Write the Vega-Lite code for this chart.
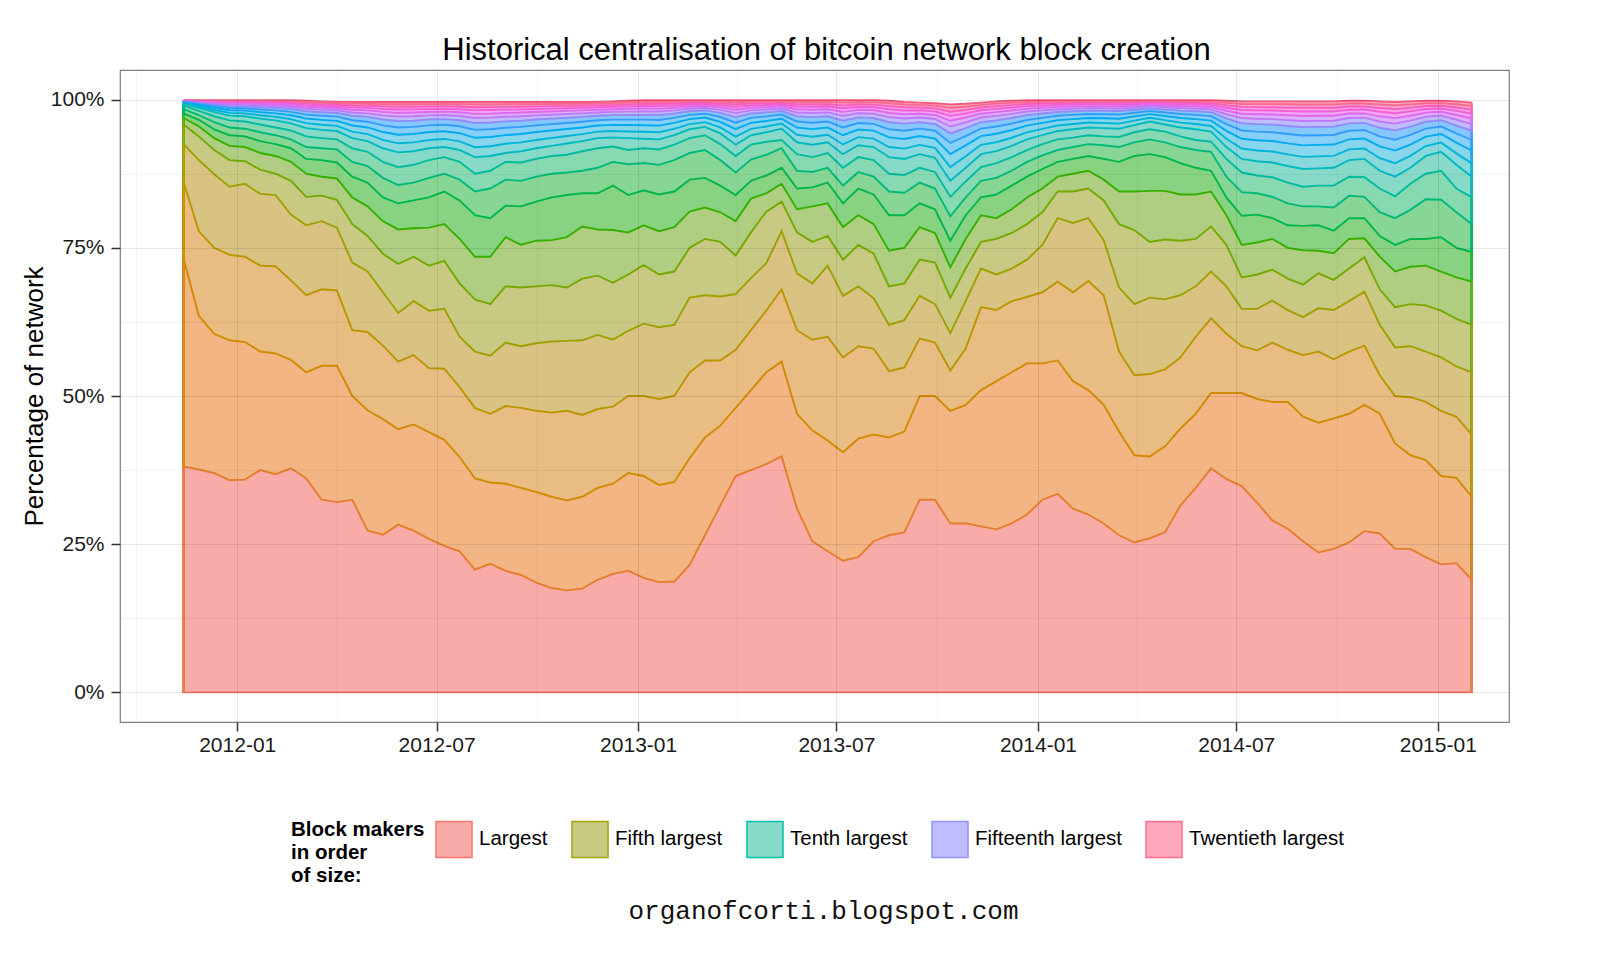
{
  "$schema": "https://vega.github.io/schema/vega-lite/v6.json",
  "width": 1389,
  "height": 652,
  "autosize": {"type": "none"},
  "padding": {"left": 120, "top": 70, "right": 91, "bottom": 238},
  "background": "white",
  "title": {
    "text": "Historical centralisation of bitcoin network block creation",
    "font": "Liberation Sans",
    "fontSize": 31,
    "fontWeight": "normal",
    "color": "black",
    "anchor": "middle",
    "offset": 3,
    "dx": 12
  },
  "config": {
    "font": "Liberation Sans",
    "view": {"stroke": "#7F7F7F", "strokeWidth": 1.2},
    "axis": {
      "domain": false,
      "labelFont": "Liberation Sans",
      "labelFontSize": 21,
      "labelColor": "#1A1A1A",
      "tickColor": "#333333",
      "tickSize": 9,
      "tickWidth": 1.5,
      "gridColor": "#000000",
      "titleFont": "Liberation Sans",
      "titleFontWeight": "normal",
      "titleColor": "black"
    }
  },
  "data": {
    "values": [
      {"d":"2011-11-13","r1":38.1,"r2":73.2,"r3":86.1,"r4":92.5,"r5":95.8,"r6":96.9,"r7":97.7,"r8":98.4,"r9":99.0,"r10":99.3,"r11":99.41,"r12":99.51,"r13":99.6,"r14":99.67,"r15":99.73,"r16":99.77,"r17":99.81,"r18":99.84,"r19":99.87,"r20":99.9},
      {"d":"2011-11-27","r1":37.6,"r2":63.5,"r3":77.8,"r4":89.8,"r5":93.8,"r6":95.5,"r7":96.6,"r8":97.4,"r9":98.1,"r10":98.6,"r11":98.83,"r12":99.06,"r13":99.24,"r14":99.41,"r15":99.52,"r16":99.62,"r17":99.71,"r18":99.78,"r19":99.84,"r20":99.9},
      {"d":"2011-12-11","r1":37.0,"r2":60.5,"r3":75.0,"r4":87.4,"r5":91.5,"r6":93.5,"r7":95.0,"r8":96.2,"r9":97.2,"r10":97.9,"r11":98.26,"r12":98.6,"r13":98.89,"r14":99.14,"r15":99.32,"r16":99.47,"r17":99.6,"r18":99.71,"r19":99.81,"r20":99.9},
      {"d":"2011-12-25","r1":35.8,"r2":59.4,"r3":73.8,"r4":85.3,"r5":89.8,"r6":92.2,"r7":94.0,"r8":95.3,"r9":96.5,"r10":97.3,"r11":97.77,"r12":98.21,"r13":98.59,"r14":98.91,"r15":99.15,"r16":99.34,"r17":99.51,"r18":99.65,"r19":99.78,"r20":99.9},
      {"d":"2012-01-08","r1":35.9,"r2":59.1,"r3":73.5,"r4":85.8,"r5":89.6,"r6":92.0,"r7":93.8,"r8":95.1,"r9":96.3,"r10":97.2,"r11":97.69,"r12":98.15,"r13":98.54,"r14":98.87,"r15":99.12,"r16":99.32,"r17":99.5,"r18":99.64,"r19":99.78,"r20":99.9},
      {"d":"2012-01-22","r1":37.5,"r2":57.5,"r3":72.0,"r4":84.1,"r5":88.2,"r6":91.0,"r7":93.0,"r8":94.5,"r9":95.8,"r10":96.8,"r11":97.36,"r12":97.89,"r13":98.33,"r14":98.72,"r15":99.0,"r16":99.23,"r17":99.44,"r18":99.61,"r19":99.76,"r20":99.9},
      {"d":"2012-02-05","r1":36.8,"r2":57.2,"r3":71.9,"r4":83.9,"r5":87.5,"r6":90.5,"r7":92.5,"r8":94.0,"r9":95.3,"r10":96.5,"r11":97.11,"r12":97.69,"r13":98.18,"r14":98.61,"r15":98.91,"r16":99.17,"r17":99.39,"r18":99.58,"r19":99.75,"r20":99.9},
      {"d":"2012-02-19","r1":37.8,"r2":56.1,"r3":69.5,"r4":80.6,"r5":86.3,"r6":89.5,"r7":91.8,"r8":93.3,"r9":94.8,"r10":96.0,"r11":96.7,"r12":97.37,"r13":97.93,"r14":98.42,"r15":98.77,"r16":99.06,"r17":99.32,"r18":99.53,"r19":99.72,"r20":99.9},
      {"d":"2012-03-04","r1":36.1,"r2":54.0,"r3":67.0,"r4":78.8,"r5":83.6,"r6":87.5,"r7":90.0,"r8":92.0,"r9":93.8,"r10":95.2,"r11":96.03,"r12":96.81,"r13":97.48,"r14":98.05,"r15":98.47,"r16":98.81,"r17":99.11,"r18":99.36,"r19":99.59,"r20":99.8},
      {"d":"2012-03-18","r1":32.5,"r2":55.1,"r3":68.0,"r4":79.5,"r5":83.8,"r6":87.0,"r7":89.8,"r8":91.8,"r9":93.5,"r10":94.9,"r11":95.76,"r12":96.58,"r13":97.28,"r14":97.88,"r15":98.31,"r16":98.67,"r17":98.98,"r18":99.24,"r19":99.48,"r20":99.7},
      {"d":"2012-04-01","r1":32.1,"r2":55.1,"r3":67.8,"r4":78.4,"r5":83.1,"r6":86.7,"r7":89.4,"r8":91.6,"r9":93.3,"r10":94.7,"r11":95.58,"r12":96.42,"r13":97.13,"r14":97.74,"r15":98.18,"r16":98.55,"r17":98.87,"r18":99.13,"r19":99.38,"r20":99.6},
      {"d":"2012-04-15","r1":32.5,"r2":50.0,"r3":61.1,"r4":72.5,"r5":79.0,"r6":83.5,"r7":87.0,"r8":89.5,"r9":91.8,"r10":93.5,"r11":94.6,"r12":95.64,"r13":96.52,"r14":97.28,"r15":97.83,"r16":98.29,"r17":98.69,"r18":99.02,"r19":99.33,"r20":99.6},
      {"d":"2012-04-29","r1":27.3,"r2":47.6,"r3":60.8,"r4":71.0,"r5":77.0,"r6":82.0,"r7":86.0,"r8":88.8,"r9":91.2,"r10":93.0,"r11":94.19,"r12":95.31,"r13":96.27,"r14":97.09,"r15":97.69,"r16":98.18,"r17":98.61,"r18":98.97,"r19":99.3,"r20":99.6},
      {"d":"2012-05-13","r1":26.6,"r2":46.1,"r3":58.5,"r4":67.5,"r5":74.0,"r6":79.5,"r7":83.5,"r8":86.8,"r9":89.5,"r10":91.8,"r11":93.2,"r12":94.53,"r13":95.66,"r14":96.64,"r15":97.34,"r16":97.92,"r17":98.43,"r18":98.86,"r19":99.25,"r20":99.6},
      {"d":"2012-05-27","r1":28.3,"r2":44.4,"r3":55.8,"r4":64.0,"r5":72.3,"r6":78.1,"r7":82.5,"r8":85.6,"r9":88.6,"r10":91.1,"r11":92.63,"r12":94.08,"r13":95.31,"r14":96.37,"r15":97.14,"r16":97.77,"r17":98.33,"r18":98.79,"r19":99.22,"r20":99.6},
      {"d":"2012-06-10","r1":27.3,"r2":45.2,"r3":56.9,"r4":66.0,"r5":73.5,"r6":78.3,"r7":83.0,"r8":86.0,"r9":89.0,"r10":91.3,"r11":92.79,"r12":94.21,"r13":95.41,"r14":96.45,"r15":97.19,"r16":97.82,"r17":98.36,"r18":98.81,"r19":99.23,"r20":99.6},
      {"d":"2012-06-24","r1":25.9,"r2":43.9,"r3":54.7,"r4":64.4,"r5":72.0,"r6":78.4,"r7":83.5,"r8":86.8,"r9":89.8,"r10":91.8,"r11":93.2,"r12":94.53,"r13":95.66,"r14":96.64,"r15":97.34,"r16":97.92,"r17":98.43,"r18":98.86,"r19":99.25,"r20":99.6},
      {"d":"2012-07-08","r1":24.7,"r2":42.6,"r3":54.6,"r4":64.7,"r5":72.8,"r6":79.0,"r7":84.5,"r8":87.5,"r9":90.3,"r10":92.0,"r11":93.37,"r12":94.66,"r13":95.76,"r14":96.71,"r15":97.4,"r16":97.97,"r17":98.46,"r18":98.88,"r19":99.26,"r20":99.6},
      {"d":"2012-07-22","r1":23.8,"r2":39.7,"r3":51.5,"r4":60.0,"r5":69.0,"r6":76.5,"r7":83.0,"r8":86.5,"r9":89.5,"r10":91.5,"r11":92.96,"r12":94.34,"r13":95.51,"r14":96.52,"r15":97.25,"r16":97.86,"r17":98.39,"r18":98.83,"r19":99.24,"r20":99.6},
      {"d":"2012-08-05","r1":20.7,"r2":36.1,"r3":48.0,"r4":57.5,"r5":66.3,"r6":73.5,"r7":80.5,"r8":84.5,"r9":87.5,"r10":90.3,"r11":91.97,"r12":93.56,"r13":94.9,"r14":96.07,"r15":96.9,"r16":97.6,"r17":98.21,"r18":98.72,"r19":99.18,"r20":99.6},
      {"d":"2012-08-19","r1":21.7,"r2":35.4,"r3":47.0,"r4":56.8,"r5":65.5,"r6":73.5,"r7":80.0,"r8":85.0,"r9":88.0,"r10":90.5,"r11":92.14,"r12":93.69,"r13":95.0,"r14":96.14,"r15":96.96,"r16":97.64,"r17":98.24,"r18":98.74,"r19":99.19,"r20":99.6},
      {"d":"2012-09-02","r1":20.5,"r2":35.2,"r3":48.3,"r4":59.0,"r5":68.5,"r6":76.8,"r7":82.1,"r8":86.5,"r9":89.5,"r10":91.0,"r11":92.55,"r12":94.01,"r13":95.26,"r14":96.33,"r15":97.11,"r16":97.75,"r17":98.31,"r18":98.78,"r19":99.21,"r20":99.6},
      {"d":"2012-09-16","r1":19.8,"r2":34.5,"r3":48.0,"r4":58.4,"r5":68.3,"r6":75.5,"r7":82.0,"r8":86.3,"r9":89.4,"r10":91.3,"r11":92.79,"r12":94.21,"r13":95.41,"r14":96.45,"r15":97.19,"r16":97.82,"r17":98.36,"r18":98.81,"r19":99.23,"r20":99.6},
      {"d":"2012-09-30","r1":18.5,"r2":33.8,"r3":47.5,"r4":58.9,"r5":68.5,"r6":76.2,"r7":82.8,"r8":87.0,"r9":90.0,"r10":91.8,"r11":93.2,"r12":94.53,"r13":95.66,"r14":96.64,"r15":97.34,"r16":97.92,"r17":98.43,"r18":98.86,"r19":99.25,"r20":99.6},
      {"d":"2012-10-14","r1":17.6,"r2":33.0,"r3":47.2,"r4":59.2,"r5":68.7,"r6":76.3,"r7":83.5,"r8":87.5,"r9":90.5,"r10":92.2,"r11":93.53,"r12":94.79,"r13":95.86,"r14":96.79,"r15":97.45,"r16":98.01,"r17":98.49,"r18":98.9,"r19":99.27,"r20":99.6},
      {"d":"2012-10-28","r1":17.2,"r2":32.4,"r3":47.5,"r4":59.3,"r5":68.3,"r6":76.8,"r7":83.9,"r8":87.7,"r9":90.7,"r10":92.6,"r11":93.86,"r12":95.05,"r13":96.07,"r14":96.94,"r15":97.57,"r16":98.1,"r17":98.55,"r18":98.94,"r19":99.29,"r20":99.6},
      {"d":"2012-11-11","r1":17.5,"r2":33.0,"r3":46.8,"r4":59.4,"r5":69.8,"r6":78.6,"r7":84.2,"r8":88.0,"r9":91.3,"r10":93.0,"r11":94.19,"r12":95.31,"r13":96.27,"r14":97.09,"r15":97.69,"r16":98.18,"r17":98.61,"r18":98.97,"r19":99.3,"r20":99.6},
      {"d":"2012-11-25","r1":19.0,"r2":34.5,"r3":47.8,"r4":60.3,"r5":70.3,"r6":78.1,"r7":84.2,"r8":88.5,"r9":91.8,"r10":93.5,"r11":94.6,"r12":95.64,"r13":96.52,"r14":97.28,"r15":97.83,"r16":98.29,"r17":98.69,"r18":99.02,"r19":99.33,"r20":99.6},
      {"d":"2012-12-09","r1":20.0,"r2":35.2,"r3":48.2,"r4":59.5,"r5":69.1,"r6":78.0,"r7":85.5,"r8":89.5,"r9":92.1,"r10":93.6,"r11":94.7,"r12":95.74,"r13":96.62,"r14":97.38,"r15":97.93,"r16":98.39,"r17":98.79,"r18":99.12,"r19":99.43,"r20":99.7},
      {"d":"2012-12-23","r1":20.5,"r2":37.0,"r3":50.0,"r4":61.0,"r5":70.5,"r6":77.6,"r7":83.9,"r8":89.1,"r9":91.5,"r10":93.5,"r11":94.63,"r12":95.71,"r13":96.62,"r14":97.41,"r15":97.97,"r16":98.45,"r17":98.86,"r18":99.2,"r19":99.52,"r20":99.8},
      {"d":"2013-01-06","r1":19.3,"r2":36.5,"r3":50.0,"r4":62.2,"r5":72.1,"r6":78.8,"r7":84.7,"r8":89.3,"r9":91.8,"r10":93.4,"r11":94.57,"r12":95.68,"r13":96.62,"r14":97.43,"r15":98.02,"r16":98.5,"r17":98.93,"r18":99.28,"r19":99.61,"r20":99.9},
      {"d":"2013-01-20","r1":18.6,"r2":35.0,"r3":49.5,"r4":61.6,"r5":70.5,"r6":77.8,"r7":84.0,"r8":89.0,"r9":91.6,"r10":93.3,"r11":94.49,"r12":95.61,"r13":96.57,"r14":97.39,"r15":97.99,"r16":98.48,"r17":98.91,"r18":99.27,"r19":99.6,"r20":99.9},
      {"d":"2013-02-03","r1":18.7,"r2":35.5,"r3":50.0,"r4":62.0,"r5":71.0,"r6":78.5,"r7":84.5,"r8":89.8,"r9":92.4,"r10":94.0,"r11":95.06,"r12":96.07,"r13":96.92,"r14":97.66,"r15":98.19,"r16":98.63,"r17":99.02,"r18":99.34,"r19":99.63,"r20":99.9},
      {"d":"2013-02-17","r1":21.5,"r2":39.5,"r3":54.0,"r4":66.6,"r5":75.0,"r6":81.1,"r7":86.5,"r8":91.0,"r9":93.5,"r10":95.0,"r11":95.88,"r12":96.72,"r13":97.43,"r14":98.04,"r15":98.48,"r16":98.85,"r17":99.17,"r18":99.43,"r19":99.68,"r20":99.9},
      {"d":"2013-03-03","r1":26.5,"r2":43.0,"r3":56.0,"r4":67.0,"r5":76.5,"r6":81.8,"r7":86.8,"r8":91.5,"r9":94.0,"r10":95.4,"r11":96.21,"r12":96.98,"r13":97.63,"r14":98.19,"r15":98.6,"r16":98.93,"r17":99.23,"r18":99.47,"r19":99.7,"r20":99.9},
      {"d":"2013-03-17","r1":31.5,"r2":45.0,"r3":56.0,"r4":66.8,"r5":76.0,"r6":81.0,"r7":85.5,"r8":89.8,"r9":92.5,"r10":94.3,"r11":95.31,"r12":96.26,"r13":97.07,"r14":97.77,"r15":98.28,"r16":98.7,"r17":99.06,"r18":99.37,"r19":99.65,"r20":99.9},
      {"d":"2013-03-31","r1":36.5,"r2":48.0,"r3":57.8,"r4":67.2,"r5":73.7,"r6":79.5,"r7":83.9,"r8":87.7,"r9":90.5,"r10":92.4,"r11":93.75,"r12":95.03,"r13":96.11,"r14":97.05,"r15":97.73,"r16":98.29,"r17":98.78,"r18":99.19,"r19":99.56,"r20":99.9},
      {"d":"2013-04-14","r1":37.5,"r2":51.0,"r3":61.1,"r4":69.9,"r5":77.6,"r6":83.3,"r7":86.3,"r8":89.9,"r9":92.4,"r10":94.0,"r11":95.06,"r12":96.07,"r13":96.92,"r14":97.66,"r15":98.19,"r16":98.63,"r17":99.02,"r18":99.34,"r19":99.63,"r20":99.9},
      {"d":"2013-04-28","r1":38.5,"r2":54.0,"r3":64.4,"r4":72.4,"r5":81.1,"r6":84.2,"r7":87.2,"r8":90.7,"r9":92.9,"r10":94.5,"r11":95.47,"r12":96.39,"r13":97.17,"r14":97.85,"r15":98.33,"r16":98.74,"r17":99.09,"r18":99.39,"r19":99.66,"r20":99.9},
      {"d":"2013-05-12","r1":39.8,"r2":55.8,"r3":68.0,"r4":77.8,"r5":82.8,"r6":85.8,"r7":88.5,"r8":91.8,"r9":93.2,"r10":95.1,"r11":95.96,"r12":96.78,"r13":97.48,"r14":98.08,"r15":98.51,"r16":98.87,"r17":99.18,"r18":99.44,"r19":99.68,"r20":99.9},
      {"d":"2013-05-26","r1":31.0,"r2":47.0,"r3":61.1,"r4":70.7,"r5":77.6,"r6":81.5,"r7":85.0,"r8":88.0,"r9":90.8,"r10":92.8,"r11":94.08,"r12":95.29,"r13":96.31,"r14":97.2,"r15":97.84,"r16":98.37,"r17":98.84,"r18":99.23,"r19":99.58,"r20":99.9},
      {"d":"2013-06-09","r1":25.5,"r2":44.2,"r3":59.5,"r4":69.0,"r5":76.0,"r6":82.0,"r7":85.2,"r8":87.8,"r9":90.3,"r10":92.4,"r11":93.75,"r12":95.03,"r13":96.11,"r14":97.05,"r15":97.73,"r16":98.29,"r17":98.78,"r18":99.19,"r19":99.56,"r20":99.9},
      {"d":"2013-06-23","r1":23.8,"r2":42.5,"r3":60.0,"r4":72.0,"r5":77.0,"r6":82.5,"r7":86.0,"r8":88.5,"r9":91.0,"r10":92.8,"r11":94.08,"r12":95.29,"r13":96.31,"r14":97.2,"r15":97.84,"r16":98.37,"r17":98.84,"r18":99.23,"r19":99.58,"r20":99.9},
      {"d":"2013-07-07","r1":22.2,"r2":40.5,"r3":56.5,"r4":66.9,"r5":73.0,"r6":78.5,"r7":82.5,"r8":85.5,"r9":88.5,"r10":90.8,"r11":92.44,"r12":93.99,"r13":95.3,"r14":96.44,"r15":97.26,"r16":97.94,"r17":98.54,"r18":99.04,"r19":99.49,"r20":99.9},
      {"d":"2013-07-21","r1":22.8,"r2":42.8,"r3":58.4,"r4":68.5,"r5":75.5,"r6":80.5,"r7":85.0,"r8":87.8,"r9":90.3,"r10":92.3,"r11":93.67,"r12":94.96,"r13":96.06,"r14":97.01,"r15":97.7,"r16":98.27,"r17":98.76,"r18":99.18,"r19":99.56,"r20":99.9},
      {"d":"2013-08-04","r1":25.5,"r2":43.5,"r3":58.0,"r4":66.5,"r5":74.0,"r6":79.0,"r7":84.0,"r8":87.0,"r9":89.8,"r10":92.0,"r11":93.42,"r12":94.77,"r13":95.91,"r14":96.9,"r15":97.61,"r16":98.2,"r17":98.72,"r18":99.15,"r19":99.54,"r20":99.9},
      {"d":"2013-08-18","r1":26.5,"r2":43.0,"r3":54.2,"r4":62.0,"r5":68.5,"r6":74.5,"r7":80.5,"r8":84.5,"r9":87.5,"r10":90.3,"r11":92.01,"r12":93.63,"r13":95.0,"r14":96.19,"r15":97.05,"r16":97.76,"r17":98.38,"r18":98.9,"r19":99.37,"r20":99.8},
      {"d":"2013-09-01","r1":27.0,"r2":44.0,"r3":54.8,"r4":62.8,"r5":69.0,"r6":75.0,"r7":80.5,"r8":84.3,"r9":87.3,"r10":90.0,"r11":91.73,"r12":93.36,"r13":94.75,"r14":95.95,"r15":96.82,"r16":97.54,"r17":98.16,"r18":98.69,"r19":99.17,"r20":99.6},
      {"d":"2013-09-15","r1":32.5,"r2":50.0,"r3":59.7,"r4":66.9,"r5":73.0,"r6":78.5,"r7":82.5,"r8":86.0,"r9":88.5,"r10":90.8,"r11":92.37,"r12":93.85,"r13":95.11,"r14":96.19,"r15":96.98,"r16":97.63,"r17":98.2,"r18":98.67,"r19":99.11,"r20":99.5},
      {"d":"2013-09-29","r1":32.5,"r2":50.0,"r3":59.0,"r4":65.5,"r5":72.5,"r6":77.5,"r7":81.5,"r8":85.0,"r9":87.8,"r10":90.2,"r11":91.86,"r12":93.42,"r13":94.75,"r14":95.9,"r15":96.73,"r16":97.42,"r17":98.02,"r18":98.53,"r19":98.99,"r20":99.4},
      {"d":"2013-10-13","r1":28.5,"r2":47.5,"r3":54.3,"r4":60.6,"r5":66.6,"r6":71.7,"r7":76.2,"r8":80.3,"r9":83.6,"r10":86.3,"r11":88.62,"r12":90.82,"r13":92.69,"r14":94.3,"r15":95.46,"r16":96.43,"r17":97.27,"r18":97.97,"r19":98.62,"r20":99.2},
      {"d":"2013-10-27","r1":28.5,"r2":48.5,"r3":58.0,"r4":66.0,"r5":71.5,"r6":76.5,"r7":80.5,"r8":83.5,"r9":86.2,"r10":88.5,"r11":90.44,"r12":92.28,"r13":93.85,"r14":95.2,"r15":96.17,"r16":96.98,"r17":97.68,"r18":98.27,"r19":98.81,"r20":99.3},
      {"d":"2013-11-10","r1":28.0,"r2":51.0,"r3":65.0,"r4":71.5,"r5":76.0,"r6":80.5,"r7":83.5,"r8":86.3,"r9":88.6,"r10":90.8,"r11":92.37,"r12":93.85,"r13":95.11,"r14":96.19,"r15":96.98,"r16":97.63,"r17":98.2,"r18":98.67,"r19":99.11,"r20":99.5},
      {"d":"2013-11-24","r1":27.5,"r2":52.5,"r3":64.5,"r4":70.5,"r5":76.5,"r6":80.0,"r7":84.0,"r8":86.8,"r9":89.3,"r10":91.3,"r11":92.81,"r12":94.24,"r13":95.46,"r14":96.51,"r15":97.26,"r16":97.89,"r17":98.44,"r18":98.9,"r19":99.32,"r20":99.7},
      {"d":"2013-12-08","r1":28.5,"r2":54.0,"r3":66.0,"r4":71.5,"r5":77.5,"r6":81.5,"r7":85.5,"r8":88.0,"r9":90.3,"r10":92.2,"r11":93.57,"r12":94.86,"r13":95.96,"r14":96.91,"r15":97.6,"r16":98.17,"r17":98.66,"r18":99.08,"r19":99.46,"r20":99.8},
      {"d":"2013-12-22","r1":30.0,"r2":55.5,"r3":66.7,"r4":73.0,"r5":79.0,"r6":83.5,"r7":87.0,"r8":89.5,"r9":91.5,"r10":93.3,"r11":94.49,"r12":95.61,"r13":96.57,"r14":97.39,"r15":97.99,"r16":98.48,"r17":98.91,"r18":99.27,"r19":99.6,"r20":99.9},
      {"d":"2014-01-05","r1":32.5,"r2":55.5,"r3":67.5,"r4":75.5,"r5":81.0,"r6":85.0,"r7":88.3,"r8":90.6,"r9":92.5,"r10":94.0,"r11":95.06,"r12":96.07,"r13":96.92,"r14":97.66,"r15":98.19,"r16":98.63,"r17":99.02,"r18":99.34,"r19":99.63,"r20":99.9},
      {"d":"2014-01-19","r1":33.5,"r2":56.0,"r3":69.3,"r4":80.0,"r5":84.5,"r6":87.0,"r7":89.5,"r8":91.5,"r9":93.3,"r10":94.7,"r11":95.64,"r12":96.52,"r13":97.27,"r14":97.92,"r15":98.39,"r16":98.78,"r17":99.12,"r18":99.41,"r19":99.67,"r20":99.9},
      {"d":"2014-02-02","r1":31.0,"r2":52.5,"r3":67.5,"r4":79.2,"r5":84.5,"r6":87.5,"r7":90.0,"r8":92.0,"r9":93.6,"r10":95.0,"r11":95.88,"r12":96.72,"r13":97.43,"r14":98.04,"r15":98.48,"r16":98.85,"r17":99.17,"r18":99.43,"r19":99.68,"r20":99.9},
      {"d":"2014-02-16","r1":30.0,"r2":51.0,"r3":69.4,"r4":80.0,"r5":85.0,"r6":88.0,"r7":90.5,"r8":92.5,"r9":94.0,"r10":95.3,"r11":96.13,"r12":96.91,"r13":97.58,"r14":98.15,"r15":98.57,"r16":98.91,"r17":99.21,"r18":99.46,"r19":99.69,"r20":99.9},
      {"d":"2014-03-02","r1":28.5,"r2":48.5,"r3":67.0,"r4":76.3,"r5":83.0,"r6":86.5,"r7":90.0,"r8":92.3,"r9":93.8,"r10":95.2,"r11":96.05,"r12":96.85,"r13":97.53,"r14":98.11,"r15":98.54,"r16":98.89,"r17":99.2,"r18":99.45,"r19":99.69,"r20":99.9},
      {"d":"2014-03-16","r1":26.5,"r2":44.0,"r3":57.5,"r4":68.3,"r5":79.0,"r6":84.5,"r7":89.5,"r8":92.0,"r9":93.7,"r10":95.1,"r11":95.96,"r12":96.78,"r13":97.48,"r14":98.08,"r15":98.51,"r16":98.87,"r17":99.18,"r18":99.44,"r19":99.68,"r20":99.9},
      {"d":"2014-03-30","r1":25.3,"r2":40.0,"r3":53.5,"r4":65.5,"r5":78.0,"r6":84.5,"r7":90.5,"r8":92.8,"r9":94.5,"r10":95.7,"r11":96.46,"r12":97.17,"r13":97.78,"r14":98.3,"r15":98.68,"r16":99.0,"r17":99.27,"r18":99.5,"r19":99.71,"r20":99.9},
      {"d":"2014-04-13","r1":26.0,"r2":39.8,"r3":53.7,"r4":66.6,"r5":76.0,"r6":84.6,"r7":90.8,"r8":93.3,"r9":95.0,"r10":96.3,"r11":96.95,"r12":97.56,"r13":98.08,"r14":98.53,"r15":98.86,"r16":99.13,"r17":99.36,"r18":99.56,"r19":99.74,"r20":99.9},
      {"d":"2014-04-27","r1":27.0,"r2":41.5,"r3":54.5,"r4":66.3,"r5":76.4,"r6":84.6,"r7":90.3,"r8":92.8,"r9":94.6,"r10":95.8,"r11":96.54,"r12":97.24,"r13":97.83,"r14":98.34,"r15":98.71,"r16":99.02,"r17":99.29,"r18":99.51,"r19":99.72,"r20":99.9},
      {"d":"2014-05-11","r1":31.5,"r2":44.5,"r3":56.5,"r4":67.0,"r5":76.2,"r6":84.0,"r7":89.3,"r8":92.0,"r9":93.8,"r10":95.3,"r11":96.13,"r12":96.91,"r13":97.58,"r14":98.15,"r15":98.57,"r16":98.91,"r17":99.21,"r18":99.46,"r19":99.69,"r20":99.9},
      {"d":"2014-05-25","r1":34.5,"r2":47.0,"r3":60.0,"r4":68.5,"r5":76.5,"r6":84.0,"r7":88.5,"r8":91.5,"r9":93.2,"r10":95.0,"r11":95.88,"r12":96.72,"r13":97.43,"r14":98.04,"r15":98.48,"r16":98.85,"r17":99.17,"r18":99.43,"r19":99.68,"r20":99.9},
      {"d":"2014-06-08","r1":37.8,"r2":50.5,"r3":63.1,"r4":71.0,"r5":78.6,"r6":84.5,"r7":88.0,"r8":91.2,"r9":92.9,"r10":94.6,"r11":95.55,"r12":96.46,"r13":97.22,"r14":97.89,"r15":98.36,"r16":98.76,"r17":99.11,"r18":99.4,"r19":99.66,"r20":99.9},
      {"d":"2014-06-22","r1":36.0,"r2":50.5,"r3":60.5,"r4":68.5,"r5":75.5,"r6":80.5,"r7":83.5,"r8":87.0,"r9":90.0,"r10":92.0,"r11":93.4,"r12":94.73,"r13":95.86,"r14":96.84,"r15":97.54,"r16":98.12,"r17":98.63,"r18":99.06,"r19":99.45,"r20":99.8},
      {"d":"2014-07-06","r1":34.8,"r2":50.5,"r3":58.4,"r4":64.7,"r5":70.0,"r6":75.5,"r7":80.4,"r8":84.4,"r9":87.7,"r10":90.0,"r11":91.75,"r12":93.4,"r13":94.8,"r14":96.01,"r15":96.89,"r16":97.61,"r17":98.25,"r18":98.78,"r19":99.26,"r20":99.7},
      {"d":"2014-07-20","r1":32.0,"r2":49.5,"r3":57.7,"r4":64.7,"r5":70.5,"r6":75.9,"r7":80.6,"r8":84.2,"r9":87.2,"r10":89.6,"r11":91.42,"r12":93.14,"r13":94.6,"r14":95.86,"r15":96.77,"r16":97.53,"r17":98.19,"r18":98.74,"r19":99.25,"r20":99.7},
      {"d":"2014-08-03","r1":29.0,"r2":49.0,"r3":59.0,"r4":66.1,"r5":71.3,"r6":76.5,"r7":80.0,"r8":83.6,"r9":86.9,"r10":89.4,"r11":91.25,"r12":93.01,"r13":94.5,"r14":95.79,"r15":96.71,"r16":97.49,"r17":98.16,"r18":98.72,"r19":99.24,"r20":99.7},
      {"d":"2014-08-17","r1":27.6,"r2":49.0,"r3":57.8,"r4":64.5,"r5":69.8,"r6":75.0,"r7":78.8,"r8":82.5,"r9":86.0,"r10":88.8,"r11":90.76,"r12":92.62,"r13":94.2,"r14":95.56,"r15":96.54,"r16":97.36,"r17":98.07,"r18":98.66,"r19":99.21,"r20":99.7},
      {"d":"2014-08-31","r1":25.5,"r2":46.5,"r3":56.9,"r4":63.3,"r5":68.8,"r6":74.6,"r7":78.7,"r8":82.0,"r9":85.3,"r10":88.3,"r11":90.35,"r12":92.29,"r13":93.94,"r14":95.37,"r15":96.39,"r16":97.25,"r17":97.99,"r18":98.62,"r19":99.19,"r20":99.7},
      {"d":"2014-09-14","r1":23.6,"r2":45.5,"r3":57.5,"r4":64.8,"r5":70.7,"r6":74.5,"r7":78.8,"r8":82.0,"r9":85.5,"r10":88.4,"r11":90.43,"r12":92.36,"r13":93.99,"r14":95.41,"r15":96.42,"r16":97.27,"r17":98.01,"r18":98.63,"r19":99.19,"r20":99.7},
      {"d":"2014-09-28","r1":24.2,"r2":46.2,"r3":56.2,"r4":64.5,"r5":69.6,"r6":74.1,"r7":77.9,"r8":81.8,"r9":85.5,"r10":88.5,"r11":90.52,"r12":92.42,"r13":94.04,"r14":95.44,"r15":96.45,"r16":97.29,"r17":98.02,"r18":98.64,"r19":99.2,"r20":99.7},
      {"d":"2014-10-12","r1":25.3,"r2":47.0,"r3":57.5,"r4":66.0,"r5":71.5,"r6":76.5,"r7":80.0,"r8":83.8,"r9":87.0,"r10":89.8,"r11":91.6,"r12":93.3,"r13":94.75,"r14":96.0,"r15":96.9,"r16":97.65,"r17":98.3,"r18":98.85,"r19":99.35,"r20":99.8},
      {"d":"2014-10-26","r1":27.2,"r2":48.5,"r3":58.5,"r4":67.6,"r5":73.4,"r6":76.6,"r7":80.0,"r8":83.6,"r9":86.9,"r10":90.0,"r11":91.76,"r12":93.43,"r13":94.85,"r14":96.08,"r15":96.96,"r16":97.69,"r17":98.33,"r18":98.87,"r19":99.36,"r20":99.8},
      {"d":"2014-11-09","r1":26.8,"r2":47.0,"r3":53.5,"r4":62.0,"r5":68.0,"r6":73.5,"r7":77.0,"r8":81.0,"r9":85.0,"r10":88.0,"r11":90.11,"r12":92.1,"r13":93.79,"r14":95.25,"r15":96.31,"r16":97.18,"r17":97.95,"r18":98.59,"r19":99.17,"r20":99.7},
      {"d":"2014-11-23","r1":24.2,"r2":42.0,"r3":50.0,"r4":58.2,"r5":65.0,"r6":71.0,"r7":75.5,"r8":80.0,"r9":83.7,"r10":87.0,"r11":89.27,"r12":91.41,"r13":93.24,"r14":94.81,"r15":95.95,"r16":96.89,"r17":97.71,"r18":98.4,"r19":99.03,"r20":99.6},
      {"d":"2014-12-07","r1":24.2,"r2":40.0,"r3":49.8,"r4":58.4,"r5":65.5,"r6":71.8,"r7":76.5,"r8":81.4,"r9":85.8,"r10":88.5,"r11":90.52,"r12":92.42,"r13":94.04,"r14":95.44,"r15":96.45,"r16":97.29,"r17":98.02,"r18":98.64,"r19":99.2,"r20":99.7},
      {"d":"2014-12-21","r1":22.8,"r2":39.2,"r3":49.0,"r4":57.5,"r5":65.3,"r6":72.0,"r7":76.5,"r8":83.2,"r9":87.5,"r10":90.5,"r11":92.17,"r12":93.76,"r13":95.1,"r14":96.27,"r15":97.1,"r16":97.8,"r17":98.41,"r18":98.92,"r19":99.38,"r20":99.8},
      {"d":"2015-01-04","r1":21.6,"r2":36.5,"r3":47.5,"r4":56.5,"r5":64.4,"r6":71.0,"r7":76.8,"r8":83.1,"r9":88.0,"r10":91.2,"r11":92.75,"r12":94.21,"r13":95.46,"r14":96.53,"r15":97.31,"r16":97.95,"r17":98.51,"r18":98.98,"r19":99.41,"r20":99.8},
      {"d":"2015-01-18","r1":21.8,"r2":36.2,"r3":46.5,"r4":55.0,"r5":63.0,"r6":70.0,"r7":75.0,"r8":81.0,"r9":85.0,"r10":89.0,"r11":90.93,"r12":92.75,"r13":94.3,"r14":95.63,"r15":96.6,"r16":97.4,"r17":98.1,"r18":98.68,"r19":99.22,"r20":99.7},
      {"d":"2015-02-01","r1":19.0,"r2":33.0,"r3":43.5,"r4":54.0,"r5":62.0,"r6":69.3,"r7":74.3,"r8":79.0,"r9":83.5,"r10":87.0,"r11":89.25,"r12":91.38,"r13":93.19,"r14":94.75,"r15":95.88,"r16":96.81,"r17":97.63,"r18":98.31,"r19":98.94,"r20":99.5}
    ]
  },
  "resolve": {"axis": {"x": "independent", "y": "independent"}},
  "layer": [
    {
      "transform": [
        {"fold": ["r20","r19","r18","r17","r16","r15","r14","r13","r12","r11","r10","r9","r8","r7","r6","r5","r4","r3","r2","r1"], "as": ["rank", "share"]}
      ],
      "mark": {"type": "area", "fillOpacity": 1, "strokeWidth": 0},
      "encoding": {
        "x": {
          "field": "d",
          "type": "temporal",
          "scale": {"type": "utc", "domain": [{"year": 2011, "month": 9, "date": 16, "utc": true}, {"year": 2015, "month": 3, "date": 7, "utc": true}]},
          "axis": {
            "orient": "bottom",
            "values": [
              {"year": 2012, "month": 1, "date": 1, "utc": true},
              {"year": 2012, "month": 7, "date": 1, "utc": true},
              {"year": 2013, "month": 1, "date": 1, "utc": true},
              {"year": 2013, "month": 7, "date": 1, "utc": true},
              {"year": 2014, "month": 1, "date": 1, "utc": true},
              {"year": 2014, "month": 7, "date": 1, "utc": true},
              {"year": 2015, "month": 1, "date": 1, "utc": true}
            ],
            "format": "%Y-%m",
            "grid": true,
            "gridOpacity": 0.09,
            "zindex": 1,
            "labelPadding": 3,
            "title": "organofcorti.blogspot.com",
            "titleFont": "Liberation Mono",
            "titleFontSize": 26,
            "titleColor": "#111111",
            "titleX": 703,
            "titleY": 196,
            "titleBaseline": "alphabetic"
          }
        },
        "y": {
          "field": "share",
          "type": "quantitative",
          "stack": null,
          "scale": {"domain": [-5, 105], "nice": false, "zero": false},
          "axis": {
            "orient": "left",
            "values": [0, 25, 50, 75, 100],
            "labelExpr": "datum.value + '%'",
            "grid": true,
            "gridOpacity": 0.09,
            "zindex": 1,
            "labelPadding": 7,
            "title": "Percentage of network",
            "titleFontSize": 26,
            "titlePadding": 3
          }
        },
        "fill": {
          "field": "rank",
          "type": "nominal",
          "scale": {
            "domain": ["r1","r2","r3","r4","r5","r6","r7","r8","r9","r10","r11","r12","r13","r14","r15","r16","r17","r18","r19","r20"],
            "range": ["#F9ABA8","#F2B583","#E8BC82","#D9C382","#C8C982","#B0CE82","#88D382","#87D695","#87D9B1","#87DAC8","#87D9DC","#87D6EC","#87D0FA","#86C7FF","#BFBCFF","#DDB0FF","#F1A6F8","#FCA1E9","#FFA1D7","#FFA7BD"]
          },
          "legend": {
            "values": ["r1", "r5", "r10", "r15", "r20"],
            "labelExpr": "datum.label == 'r1' ? 'Largest' : datum.label == 'r5' ? 'Fifth largest' : datum.label == 'r10' ? 'Tenth largest' : datum.label == 'r15' ? 'Fifteenth largest' : 'Twentieth largest'",
            "title": ["Block makers", "in order", "of size:"],
            "orient": "none",
            "legendX": 171,
            "legendY": 750,
            "direction": "horizontal",
            "titleOrient": "left",
            "titleAnchor": "start",
            "titleBaseline": "top",
            "titleFont": "Liberation Sans",
            "titleFontSize": 20.5,
            "titleFontWeight": "bold",
            "titleColor": "black",
            "titleLineHeight": 23,
            "titlePadding": 10,
            "labelFont": "Liberation Sans",
            "labelFontSize": 20.5,
            "labelColor": "black",
            "labelOffset": 6,
            "columnPadding": 20,
            "symbolType": "square",
            "symbolSize": 1300,
            "symbolStrokeColor": "#BDBDBD",
            "symbolStrokeWidth": 1.5,
            "symbolOpacity": 1
          }
        }
      }
    },
    {
      "transform": [
        {"filter": {"or": [
          {"field": "d", "equal": {"year": 2011, "month": 11, "date": 13, "utc": true}},
          {"field": "d", "equal": {"year": 2015, "month": 2, "date": 1, "utc": true}}
        ]}},
        {"fold": ["r20","r19","r18","r17","r16","r15","r14","r13","r12","r11","r10","r9","r8","r7","r6","r5","r4","r3","r2","r1"], "as": ["rank", "share"]}
      ],
      "mark": {"type": "rule", "strokeWidth": 2},
      "encoding": {
        "x": {"field": "d", "type": "temporal", "axis": null},
        "y": {"field": "share", "type": "quantitative", "axis": null},
        "y2": {"datum": 0},
        "color": {
          "field": "rank",
          "type": "nominal",
          "scale": {
            "domain": ["r1","r2","r3","r4","r5","r6","r7","r8","r9","r10","r11","r12","r13","r14","r15","r16","r17","r18","r19","r20"],
            "range": ["#F8766D","#EA8331","#D89000","#C09B00","#A3A500","#7CAE00","#39B600","#00BB4E","#00BF7D","#00C1A3","#00BFC4","#00BAE0","#00B0F6","#35A2FF","#9590FF","#C77CFF","#E76BF3","#FA62DB","#FF62BC","#FF6C91"]
          },
          "legend": null
        }
      }
    },
    {
      "transform": [
        {"fold": ["r20","r19","r18","r17","r16","r15","r14","r13","r12","r11","r10","r9","r8","r7","r6","r5","r4","r3","r2","r1"], "as": ["rank", "share"]}
      ],
      "mark": {"type": "line", "strokeWidth": 1.9},
      "encoding": {
        "x": {"field": "d", "type": "temporal", "axis": null},
        "y": {"field": "share", "type": "quantitative", "axis": null},
        "stroke": {
          "field": "rank",
          "type": "nominal",
          "scale": {
            "domain": ["r1","r2","r3","r4","r5","r6","r7","r8","r9","r10","r11","r12","r13","r14","r15","r16","r17","r18","r19","r20"],
            "range": ["#E47E2C","#D08B00","#B99600","#9EA000","#77A800","#36B000","#00B54B","#00B979","#00BB9E","#00B9BE","#00B4D9","#00AAEF","#339CF8","#918AF8","#C178F8","#E068EC","#F25FD4","#F85FB6","#F8698C","#F5577F"]
          },
          "legend": null
        }
      }
    },
    {
      "mark": {"type": "line", "color": "#F8766D", "strokeWidth": 1.9},
      "encoding": {
        "x": {
          "field": "d",
          "type": "temporal",
          "axis": {
            "orient": "bottom",
            "values": [
              {"year": 2011, "month": 10, "date": 1, "utc": true},
              {"year": 2012, "month": 4, "date": 1, "utc": true},
              {"year": 2012, "month": 10, "date": 1, "utc": true},
              {"year": 2013, "month": 4, "date": 1, "utc": true},
              {"year": 2013, "month": 10, "date": 1, "utc": true},
              {"year": 2014, "month": 4, "date": 1, "utc": true},
              {"year": 2014, "month": 10, "date": 1, "utc": true}
            ],
            "grid": true,
            "gridOpacity": 0.045,
            "zindex": 1,
            "labels": false,
            "ticks": false,
            "title": null
          }
        },
        "y": {
          "datum": 0,
          "type": "quantitative",
          "axis": {
            "orient": "left",
            "values": [12.5, 37.5, 62.5, 87.5],
            "grid": true,
            "gridOpacity": 0.045,
            "zindex": 1,
            "labels": false,
            "ticks": false,
            "title": null
          }
        }
      }
    }
  ]
}
